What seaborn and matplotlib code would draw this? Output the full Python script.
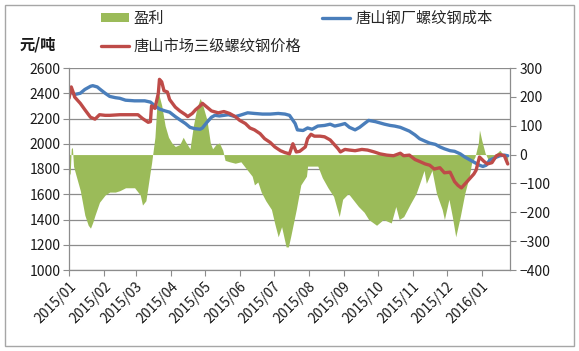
import matplotlib
matplotlib.use('Agg')
import matplotlib.pyplot as plt
from matplotlib.patches import Patch, Rectangle
from matplotlib.lines import Line2D
import pandas as pd
import seaborn as sns

# ---------------- data ----------------
# day offsets counted from 2015-01-01
cost_day = [0, 5, 10, 14, 19, 21, 25, 27, 32, 36, 41, 45, 50, 58, 67, 72, 76, 80, 85, 89,
            94, 98, 103, 107, 111, 116, 118, 122, 126, 129, 133, 141, 147, 151, 158, 164, 171,
            178, 185, 191, 195, 200, 202, 207, 211, 215, 220, 226, 231, 235, 240, 244, 248,
            253, 257, 262, 265, 271, 275, 279, 284, 288, 293, 297, 301, 306, 310, 315, 319,
            324, 328, 332, 337, 341, 346, 350, 354, 359, 363, 366, 369, 372, 377, 381, 385, 388]
cost_value = [2420, 2390, 2400, 2430, 2455, 2460, 2450, 2435, 2400, 2375, 2365, 2360, 2345,
              2340, 2340, 2330, 2300, 2275, 2260, 2250, 2215, 2190, 2160, 2130, 2120, 2115,
              2125, 2170, 2210, 2225, 2220, 2230, 2215, 2225, 2245, 2240, 2235, 2235, 2240,
              2235, 2225, 2160, 2110, 2105, 2125, 2115, 2140, 2145, 2155, 2140, 2150, 2160,
              2130, 2110, 2130, 2165, 2185, 2175, 2165, 2155, 2145, 2140, 2130, 2115, 2100,
              2070, 2040, 2020, 2005, 1995, 1975, 1960, 1945, 1940, 1920, 1895, 1875, 1850,
              1830, 1820, 1830, 1870, 1890, 1905, 1910, 1905]

price_day = [0, 2, 4, 5, 10, 14, 19, 23, 27, 32, 36, 45, 54, 61, 65, 70, 72, 73, 76, 79, 80,
             82, 84, 87, 89, 94, 98, 103, 105, 109, 112, 116, 118, 122, 126, 132, 137, 142,
             147, 151, 156, 160, 164, 169, 173, 178, 182, 187, 191, 195, 198, 201, 204, 209,
             211, 214, 217, 222, 226, 231, 235, 238, 240, 244, 248, 253, 259, 264, 270, 275,
             281, 287, 293, 296, 301, 306, 310, 315, 319, 323, 328, 332, 337, 341, 344, 347,
             351, 354, 358, 360, 363, 367, 370, 374, 378, 381, 385, 388]
price_value = [2360, 2450, 2400, 2370, 2320, 2270, 2210, 2195, 2230, 2225, 2225, 2230, 2230,
               2230, 2200, 2170, 2175, 2300, 2280, 2400, 2510, 2490, 2420, 2410, 2350, 2290,
               2260, 2230, 2215, 2240, 2270, 2300, 2320, 2290, 2260, 2245, 2255, 2240, 2215,
               2185, 2160, 2125, 2110, 2080, 2040, 2010, 1975, 1945, 1930, 1920, 2000, 1935,
               1940, 1975, 2040, 2075, 2060, 2060, 2055, 2030, 1990, 1960, 1935, 1955, 1950,
               1945, 1955, 1950, 1935, 1920, 1910, 1905, 1925, 1905, 1910, 1875, 1860, 1840,
               1830, 1800, 1810, 1770, 1775, 1700, 1670, 1650, 1690, 1720, 1760, 1790, 1895,
               1860, 1840, 1850, 1905, 1915, 1905, 1840]

profit_day = [0, 1, 2, 3, 4, 5, 10, 14, 17, 19, 21, 23, 27, 32, 36, 41, 45, 50, 58, 63, 65,
              68, 72, 73, 74, 76, 78, 79, 80, 82, 85, 88, 91, 94, 98, 101, 103, 107, 110, 113,
              116, 118, 122, 125, 127, 130, 133, 136, 138, 142, 147, 152, 158, 162, 164, 167,
              170, 174, 179, 182, 185, 188, 192, 194, 196, 201, 205, 210, 211, 220, 224, 229,
              234, 239, 242, 247, 251, 256, 261, 265, 272, 278, 285, 289, 292, 296, 302, 307,
              311, 314, 316, 321, 325, 330, 332, 336, 339, 342, 346, 350, 354, 356, 359, 362,
              363, 365, 368, 371, 377, 381, 385, 388]
profit_value = [-60, -70, 20, 25, -40, -55, -125, -210, -245, -255, -235, -210, -165, -140,
                -130, -130, -125, -115, -115, -140, -175, -160, -55, -30, 0, 60, 190, 215, 200,
                170, 100, 60, 40, 28, 35, 60, 45, 20, 100, 160, 195, 175, 120, 40, 20, 35, 40,
                15, -20, -25, -30, -25, -55, -75, -105, -95, -130, -160, -190, -240, -285,
                -250, -320, -320, -285, -190, -105, -75, -40, -40, -80, -115, -145, -215, -155,
                -135, -155, -180, -200, -225, -245, -225, -237, -180, -225, -215, -170, -135,
                -90, -55, -100, -55, -135, -190, -225, -155, -215, -285, -215, -135, -75, -30,
                -8, 40, 85, 50, 5, -20, 0, 15, -5, -35]

left_ticks = [1000, 1200, 1400, 1600, 1800, 2000, 2200, 2400, 2600]
right_ticks = [-400, -300, -200, -100, 0, 100, 200, 300]
month_ticks = ['2015-01-01', '2015-02-01', '2015-03-01', '2015-04-01', '2015-05-01',
               '2015-06-01', '2015-07-01', '2015-08-01', '2015-09-01', '2015-10-01',
               '2015-11-01', '2015-12-01', '2016-01-01']
month_labels = ['2015/01', '2015/02', '2015/03', '2015/04', '2015/05', '2015/06', '2015/07',
                '2015/08', '2015/09', '2015/10', '2015/11', '2015/12', '2016/01']
series_labels = ['盈利', '唐山市场三级螺纹钢价格', '唐山钢厂螺纹钢成本']
unit_label = '元/吨'

# ---------------- style ----------------
sns.set_style('white')
plt.rcParams['font.family'] = ['Noto Sans CJK SC', 'DejaVu Sans']

GREEN = '#9BBB59'
BLUE = '#4A7EBB'
RED = '#BE4B48'
GRID = '#8C8C8C'

base = pd.Timestamp('2015-01-01')


def to_dates(days):
    return base + pd.to_timedelta(days, unit='D')


cost_df = pd.DataFrame({'date': to_dates(cost_day), 'value': cost_value})
price_df = pd.DataFrame({'date': to_dates(price_day), 'value': price_value})
profit_df = pd.DataFrame({'date': to_dates(profit_day), 'value': profit_value})

W, H = 579, 351
fig = plt.figure(figsize=(W / 100, H / 100), dpi=100)
fig.patch.set_facecolor('white')
fig.patches.append(Rectangle((4.5 / W, 1 - 346 / H), (574 - 4.5) / W, (346 - 4.5) / H,
                             transform=fig.transFigure, fill=False, edgecolor='#A6A6A6',
                             linewidth=1.0))

L, R, T, B = 69, 510, 68, 270
ax = fig.add_axes([L / W, 1 - B / H, (R - L) / W, (B - T) / H])
ax2 = ax.twinx()   # profit area, right scale
ax3 = ax.twinx()   # price / cost lines, left scale

ax.set_zorder(1)
ax2.set_zorder(2)
ax3.set_zorder(3)
for a in (ax2, ax3):
    a.patch.set_visible(False)

xmin = base
xmax = base + pd.Timedelta(days=390)

# grid & left axis
ax.set_ylim(1000, 2600)
ax.set_yticks(left_ticks)
ax.yaxis.grid(True, color=GRID, linewidth=0.9)
ax.xaxis.grid(False)
for s in ax.spines.values():
    s.set_visible(False)
ax.tick_params(axis='y', which='both', left=True, length=4, width=0.8, color=GRID,
               labelsize=10, pad=2, labelcolor='#1a1a1a')
ax.set_xlim(xmin, xmax)
ax.set_xticks(pd.to_datetime(month_ticks))
ax.set_xticklabels(month_labels, rotation=45, ha='right', rotation_mode='anchor',
                   fontsize=10, color='#1a1a1a')
ax.tick_params(axis='x', which='both', bottom=True, length=4, width=0.8, color=GRID, pad=3)

# profit area on right axis
ax2.fill_between(profit_df['date'], profit_df['value'], 0, color=GREEN, linewidth=0)
ax2.set_ylim(-400, 300)
ax2.set_yticks(right_ticks)
ax2.set_xlim(xmin, xmax)
for s in ax2.spines.values():
    s.set_visible(False)
ax2.tick_params(axis='y', right=True, length=4, width=0.8, color=GRID, labelsize=10, pad=3,
                labelcolor='#1a1a1a')
ax2.grid(False)

# lines on the left scale
sns.lineplot(data=cost_df, x='date', y='value', ax=ax3, color=BLUE, linewidth=2.4)
sns.lineplot(data=price_df, x='date', y='value', ax=ax3, color=RED, linewidth=2.4)
ax3.set_ylim(1000, 2600)
ax3.set_xlim(xmin, xmax)
ax3.set_xlabel('')
ax3.set_ylabel('')
ax3.set_yticks([])
ax3.grid(False)
ax3.tick_params(axis='both', which='both', length=0, labelright=False, labelleft=False)
for k in ('left', 'bottom', 'right'):
    ax3.spines[k].set_visible(True)
    ax3.spines[k].set_color(GRID)
    ax3.spines[k].set_linewidth(0.9)
ax3.spines['top'].set_visible(False)
ax.set_xlabel('')
ax.set_ylabel('')
ax2.set_ylabel('')

# legend
handles = [Patch(facecolor=GREEN, edgecolor='none'),
           Line2D([0], [0], color=RED, linewidth=2.4),
           Line2D([0], [0], color=BLUE, linewidth=2.4)]
fig.legend(handles, series_labels, ncol=2, loc='upper left',
           bbox_to_anchor=(101 / W, 1 - 10 / H), frameon=False, fontsize=11,
           handlelength=1.8, handleheight=0.5, handletextpad=0.35, columnspacing=1.35,
           labelspacing=0.68, borderaxespad=0, borderpad=0)

fig.text(20 / W, 1 - 45 / H, unit_label, fontsize=11, fontweight='bold', va='center',
         ha='left', color='#1a1a1a')

fig.savefig('out.png', dpi=100, facecolor='white')
